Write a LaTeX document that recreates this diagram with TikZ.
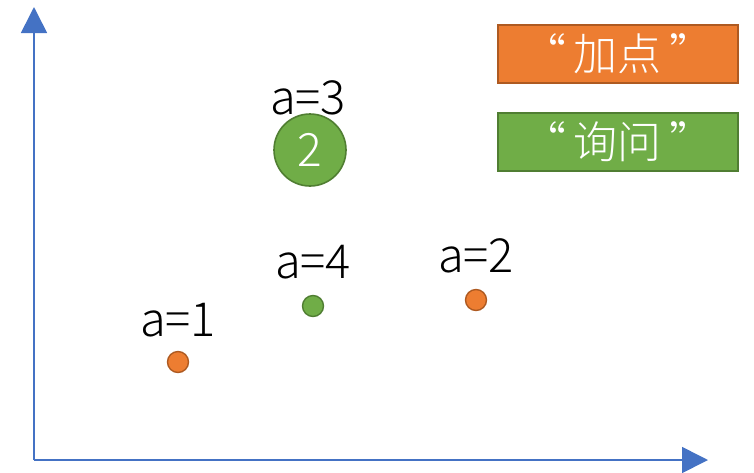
\documentclass[tikz,border=0pt]{standalone}
\usepackage{fontspec}
\setmainfont{Noto Sans CJK SC}[UprightFont=* Light]
\usetikzlibrary{arrows.meta}
\definecolor{axisblue}{HTML}{4472C4}
\definecolor{orfill}{HTML}{ED7D31}
\definecolor{ordraw}{HTML}{AE5A21}
\definecolor{grfill}{HTML}{70AD47}
\definecolor{grdraw}{HTML}{507E32}
\tikzset{
  axis/.style={draw=axisblue, line width=1.6pt, -{Triangle[length=26pt,width=26pt]}},
  legendbox/.style={minimum width=240pt, minimum height=58pt, line width=1.6pt, text=white, font=\fontsize{44pt}{46pt}\selectfont, inner sep=0pt},
  dotor/.style={circle, fill=orfill, draw=ordraw, line width=1.4pt, minimum size=21pt, inner sep=0pt},
  dotgr/.style={circle, fill=grfill, draw=grdraw, line width=1.4pt, minimum size=21pt, inner sep=0pt},
  lbl/.style={font=\fontsize{47pt}{49pt}\selectfont, inner sep=0pt},
}
\begin{document}
\begin{tikzpicture}[x=1pt,y=-1pt]
\useasboundingbox (0,0) rectangle (754,472);
\coordinate (o) at (34,460);
\coordinate (ytop) at (34,7);
\coordinate (xend) at (708,460);
\draw[axis] (o) -- (ytop);
\draw[axis] (o) -- (xend);
\node[legendbox, fill=orfill, draw=ordraw] (add) at (618,54) {“\,加点\,”};
\node[legendbox, fill=grfill, draw=grdraw] (ask) at (618,142) {“\,询问\,”};
\node[circle, fill=grfill, draw=grdraw, line width=1.6pt, minimum size=72pt, inner sep=0pt, text=white, font=\fontsize{46pt}{48pt}\selectfont] (big) at (310,150) {2};
\node[lbl] (l3) at (308,98) {a=3};
\node[dotor] (p1) at (178,362) {};
\node[lbl] (l1) at (178,320) {a=1};
\node[dotgr] (p4) at (313,306) {};
\node[lbl] (l4) at (313,262) {a=4};
\node[dotor] (p2) at (476,300) {};
\node[lbl] (l2) at (476,256) {a=2};
\end{tikzpicture}
\end{document}
